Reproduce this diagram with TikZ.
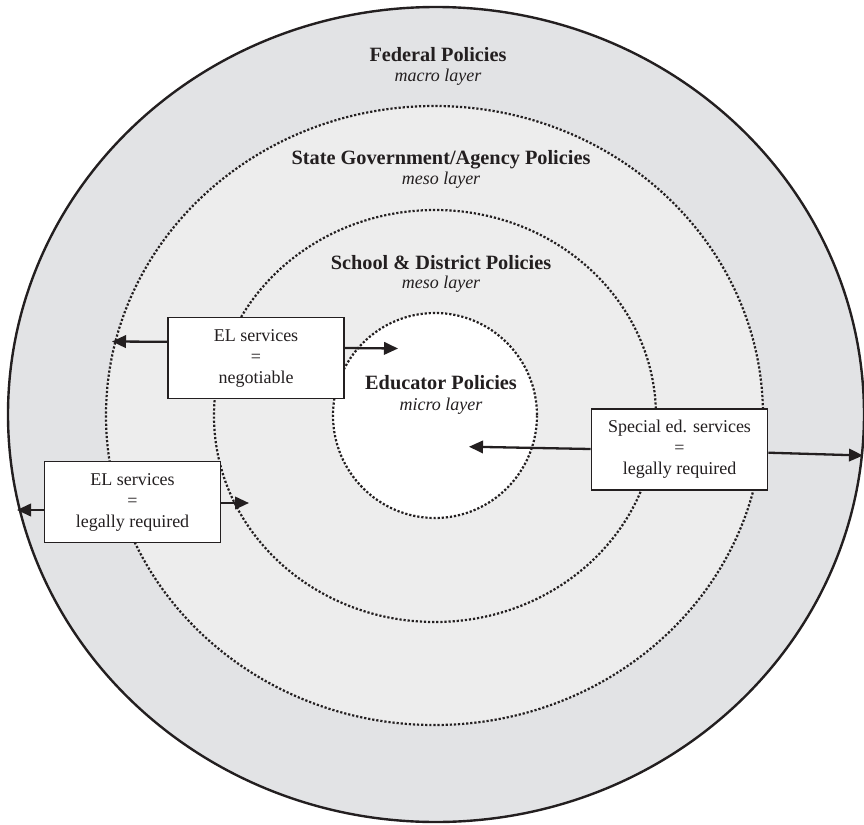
\documentclass[tikz,border=0pt]{standalone}
\usepackage{fontspec}
\setmainfont{Liberation Serif}
\usetikzlibrary{arrows.meta}
\definecolor{outerfill}{HTML}{E2E3E5}
\definecolor{midfill}{HTML}{EDEDED}
\definecolor{ink}{HTML}{231F20}
\tikzset{
  ring/.style={draw=ink, line width=2.2pt, dash pattern=on 2.2pt off 1.9pt},
  box/.style={draw=ink, fill=white, line width=1.6pt, minimum width=176pt, minimum height=81pt,
    align=center, inner sep=0pt, text=ink, font=\fontsize{18}{21}\selectfont},
  title/.style={anchor=base, font=\fontsize{20.3}{22}\selectfont\bfseries, text=ink},
  sub/.style={anchor=base, font=\fontsize{18}{20}\selectfont\itshape, text=ink},
  arr/.style={draw=ink, line width=2.3pt, -{Triangle[length=14pt,width=12.5pt]}}
}
\begin{document}
\begin{tikzpicture}[x=1pt,y=-1pt]
\useasboundingbox (0,0) rectangle (864,824);
% rings
\fill[outerfill] (436,414.5) ellipse [x radius=428, y radius=407.5];
\draw[ink, line width=2.4pt] (436,414.5) ellipse [x radius=428, y radius=407.5];
\fill[midfill] (434.5,415.5) ellipse [x radius=328.5, y radius=309.5];
\draw[ring] (434.5,415.5) ellipse [x radius=328.5, y radius=309.5];
\draw[ring] (435,416) ellipse [x radius=221, y radius=206];
\fill[white] (435,415.5) ellipse [x radius=102, y radius=102.5];
\draw[ring] (435,415.5) ellipse [x radius=102, y radius=102.5];
% titles
\node[title] (fed) at (438,62) {Federal Policies};
\node[sub] (fedsub) at (438,82) {macro layer};
\node[title] (state) at (441,164) {State Government/Agency Policies};
\node[sub] (statesub) at (441,184) {meso layer};
\node[title] (school) at (441,269) {School \& District Policies};
\node[sub] (schoolsub) at (441,288) {meso layer};
\node[title] (edu) at (441,389) {Educator Policies};
\node[sub] (edusub) at (441,410) {micro layer};
% boxes
\node[box] (b1) at (256,358) {EL services\\=\\negotiable};
\node[box] (b2) at (132.5,502) {EL services\\=\\legally required};
\node[box] (b3) at (679.5,449.5) {Special ed. services\\=\\legally required};
% arrow ends
\coordinate (e1l) at (112,341.5);
\coordinate (e1r) at (398,348.5);
\coordinate (e2l) at (17,510);
\coordinate (e2r) at (249,503);
\coordinate (e3l) at (469,446.7);
\coordinate (e3r) at (863,455.5);
\draw[arr] (b1.west |- 0,341.8) -- (e1l);
\draw[arr] (b1.east |- 0,348) -- (e1r);
\draw[arr] (b2.west |- 0,510) -- (e2l);
\draw[arr] (b2.east |- 0,503) -- (e2r);
\draw[arr] (b3.west |- 0,449) -- (e3l);
\draw[arr] (b3.east |- 0,452.7) -- (e3r);
\end{tikzpicture}
\end{document}
